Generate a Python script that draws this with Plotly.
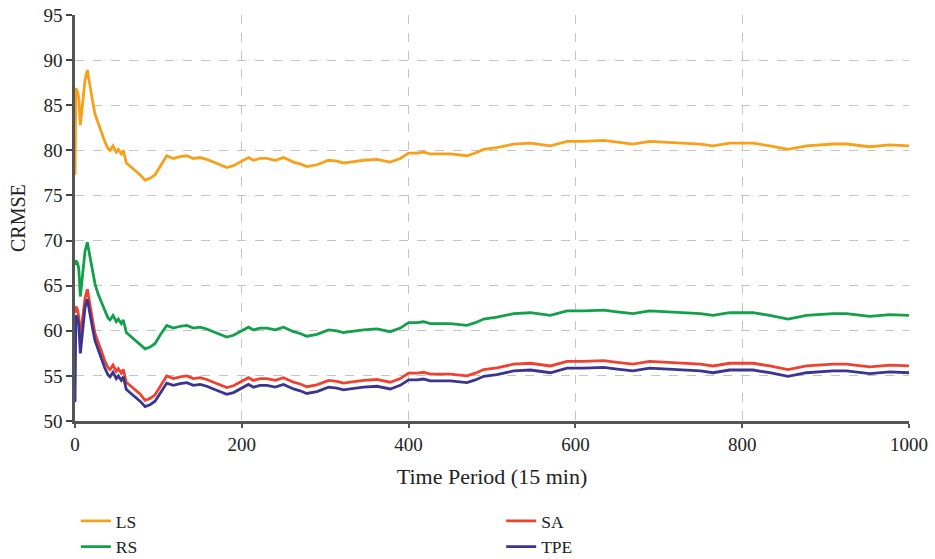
import plotly.graph_objects as go

x_vals = [0, 1, 3, 4.5, 6.4, 9, 12, 14.8, 18, 21.6, 24, 27.6, 31.6, 35.6, 39.6, 42, 45.6, 49.5, 52, 55.5,
          58, 61.5, 64, 68, 72, 78, 84, 90, 96, 102, 110, 118, 126, 134, 142, 150, 158, 166, 174, 182,
          190, 198, 208, 214, 222, 230, 240, 250, 262, 270, 278, 290, 304, 314, 322, 330, 346, 362, 378, 390,
          400, 410, 418, 426, 434, 450, 470, 480, 490, 506, 526, 546, 570, 590, 610, 634, 650, 669, 689, 710,
          729, 750, 765, 785, 800, 813, 833, 855, 877, 909, 925, 953, 977, 1000]

ls_vals = [77.3, 86.9, 86.5, 85.8, 82.8, 85.5, 87.8, 88.9, 87.0, 85.2, 84.0, 83.0, 82.0, 81.0, 80.2, 80.0, 80.5, 79.8, 80.1, 79.6,
           80.0, 78.6, 78.4, 78.1, 77.8, 77.3, 76.7, 76.9, 77.3, 78.2, 79.4, 79.1, 79.3, 79.4, 79.1, 79.2, 79.0, 78.7, 78.4, 78.1,
           78.3, 78.7, 79.2, 78.9, 79.1, 79.1, 78.9, 79.2, 78.7, 78.5, 78.2, 78.4, 78.9, 78.8, 78.6, 78.7, 78.9, 79.0, 78.7, 79.1,
           79.7, 79.7, 79.8, 79.6, 79.6, 79.6, 79.4, 79.7, 80.1, 80.3, 80.7, 80.8, 80.5, 81.0, 81.0, 81.1, 80.9, 80.7, 81.0, 80.9,
           80.8, 80.7, 80.5, 80.8, 80.8, 80.8, 80.5, 80.1, 80.5, 80.7, 80.7, 80.4, 80.6, 80.5]

rs_vals = [67.3, 67.8, 67.5, 66.9, 63.8, 66.5, 68.8, 69.8, 68.0, 66.4, 65.2, 64.1, 63.2, 62.2, 61.4, 61.2, 61.7, 61.0, 61.3, 60.8,
           61.2, 59.8, 59.6, 59.3, 59.0, 58.5, 58.0, 58.2, 58.6, 59.5, 60.6, 60.3, 60.5, 60.6, 60.3, 60.4, 60.2, 59.9, 59.6, 59.3,
           59.5, 59.9, 60.4, 60.1, 60.3, 60.3, 60.1, 60.4, 59.9, 59.7, 59.4, 59.6, 60.1, 60.0, 59.8, 59.9, 60.1, 60.2, 59.9, 60.3,
           60.9, 60.9, 61.0, 60.8, 60.8, 60.8, 60.6, 60.9, 61.3, 61.5, 61.9, 62.0, 61.7, 62.2, 62.2, 62.3, 62.1, 61.9, 62.2, 62.1,
           62.0, 61.9, 61.7, 62.0, 62.0, 62.0, 61.7, 61.3, 61.7, 61.9, 61.9, 61.6, 61.8, 61.7]

sa_vals = [62.0, 62.7, 62.3, 61.6, 59.3, 61.3, 63.6, 64.6, 62.7, 60.9, 59.7, 58.7, 57.7, 56.7, 55.9, 55.7, 56.2, 55.5, 55.8, 55.3,
           55.7, 54.3, 54.1, 53.8, 53.5, 53.0, 52.3, 52.5, 52.9, 53.8, 55.0, 54.7, 54.9, 55.0, 54.7, 54.8, 54.6, 54.3, 54.0, 53.7,
           53.9, 54.3, 54.8, 54.5, 54.7, 54.7, 54.5, 54.8, 54.3, 54.1, 53.8, 54.0, 54.5, 54.4, 54.2, 54.3, 54.5, 54.6, 54.3, 54.7,
           55.3, 55.3, 55.4, 55.2, 55.2, 55.2, 55.0, 55.3, 55.7, 55.9, 56.3, 56.4, 56.1, 56.6, 56.6, 56.7, 56.5, 56.3, 56.6, 56.5,
           56.4, 56.3, 56.1, 56.4, 56.4, 56.4, 56.1, 55.7, 56.1, 56.3, 56.3, 56.0, 56.2, 56.1]

tpe_vals = [52.1, 61.7, 61.4, 60.7, 57.5, 60.3, 62.6, 63.5, 61.7, 60.0, 58.9, 57.9, 56.9, 55.9, 55.1, 54.9, 55.4, 54.7, 55.0, 54.5,
            54.9, 53.5, 53.3, 53.0, 52.7, 52.2, 51.6, 51.8, 52.2, 53.1, 54.2, 53.95, 54.15, 54.25, 53.95, 54.05, 53.85, 53.55, 53.25, 52.95,
            53.15, 53.55, 54.05, 53.75, 53.95, 53.95, 53.75, 54.05, 53.55, 53.35, 53.05, 53.25, 53.75, 53.65, 53.45, 53.55, 53.75, 53.85, 53.55, 53.95,
            54.55, 54.55, 54.65, 54.45, 54.45, 54.45, 54.25, 54.55, 54.95, 55.15, 55.55, 55.65, 55.35, 55.85, 55.85, 55.95, 55.75, 55.55, 55.85, 55.75,
            55.65, 55.55, 55.35, 55.65, 55.65, 55.65, 55.35, 54.95, 55.35, 55.55, 55.55, 55.25, 55.45, 55.35]

x_ticks = [0, 200, 400, 600, 800, 1000]
y_ticks = [50, 55, 60, 65, 70, 75, 80, 85, 90, 95]

FONT = "Liberation Serif"

fig = go.Figure()
series = [
    ("LS", ls_vals, "#F7A11A", "legend"),
    ("RS", rs_vals, "#13A04B", "legend"),
    ("SA", sa_vals, "#EF4130", "legend2"),
    ("TPE", tpe_vals, "#3A3592", "legend2"),
]
for name, vals, color, leg in series:
    fig.add_trace(go.Scatter(x=x_vals, y=vals, mode="lines", name=name,
                             line=dict(color=color, width=2.8), legend=leg))

legend_style = dict(font=dict(family=FONT, size=17.5, color="#222"),
                    bgcolor="rgba(0,0,0,0)", yanchor="top", xanchor="left",
                    orientation="v", itemwidth=30, tracegroupgap=0)

fig.update_layout(
    width=935, height=559,
    margin=dict(l=75, r=26, t=15, b=138, autoexpand=False),
    paper_bgcolor="white", plot_bgcolor="white",
    font=dict(family=FONT, size=18, color="#222"),
    showlegend=True,
    legend=dict(x=0.001, y=-0.202, **legend_style),
    legend2=dict(x=0.511, y=-0.202, **legend_style),
    xaxis=dict(range=[0, 1000], tickvals=x_ticks, ticktext=[str(t) for t in x_ticks],
               showgrid=True, gridcolor="#C4C4C4", griddash="dash", gridwidth=1.3,
               showline=True, linecolor="#555", linewidth=2.5, zeroline=False,
               ticks="outside", ticklen=4, tickwidth=2, tickcolor="#555", automargin=False,
               title=dict(text="Time Period (15 min)", standoff=16),
               tickfont=dict(family=FONT, size=19, color="#222")),
    yaxis=dict(range=[50, 95], tickvals=y_ticks, ticktext=[str(t) for t in y_ticks],
               showgrid=True, gridcolor="#C4C4C4", griddash="dash", gridwidth=1.3,
               showline=True, linecolor="#555", linewidth=2.5, zeroline=False,
               ticks="outside", ticklen=6, tickwidth=2, tickcolor="#444", automargin=False,
               tickfont=dict(family=FONT, size=19, color="#222")),
    annotations=[dict(text="CRMSE", textangle=-90, xref="paper", yref="paper",
                      x=(18 - 75) / 834, y=0.5, xanchor="center", yanchor="middle",
                      showarrow=False, font=dict(family=FONT, size=20, color="#222"))],
)

fig.write_html("out.html")
